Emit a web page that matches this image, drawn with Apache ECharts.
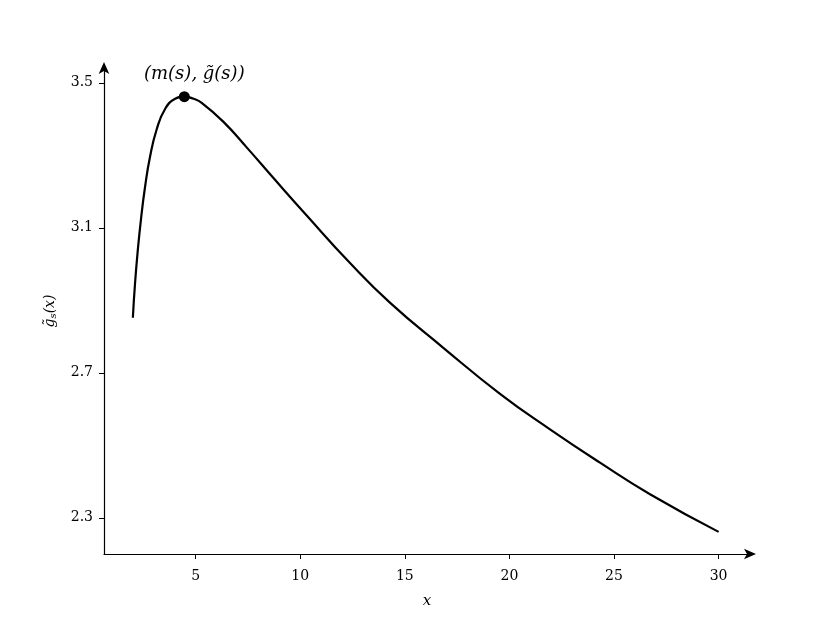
<!DOCTYPE html>
<html><head><meta charset="utf-8">
<script src="https://cdn.jsdelivr.net/npm/echarts@6/dist/echarts.min.js"></script>
<style>html,body{margin:0;padding:0;background:#fff}#c{width:830px;height:623px}</style>
</head><body><div id="c"></div>
<script>
const xValues = [2, 2.1, 2.23, 2.39, 2.58, 2.82, 3.14, 3.54, 4.02, 4.46, 4.9, 5.29, 6.32, 7.44, 8.71, 10.31, 12.38, 14.3, 16.84, 19.55, 21.94, 24.33, 26.72, 30];
const yValues = [2.852, 2.944, 3.035, 3.125, 3.212, 3.296, 3.372, 3.428, 3.456, 3.462, 3.456, 3.445, 3.393, 3.322, 3.238, 3.134, 3.003, 2.893, 2.769, 2.642, 2.544, 2.452, 2.365, 2.261];
const peak = [4.46, 3.462];
const xTicks = [5, 10, 15, 20, 25, 30];
const yTicks = [2.3, 2.7, 3.1, 3.5];
const peakLabel = '(m(s), g̃(s))';

const font = 'DejaVu Serif';
const chart = echarts.init(document.getElementById('c'), null, {renderer: 'canvas'});
chart.setOption({
  animation: false,
  backgroundColor: '#fff',
  grid: {left: 104, right: 80, top: 68, bottom: 69},
  xAxis: {
    type: 'value', min: 0.62, max: 31.5,
    splitLine: {show: false},
    axisLine: {lineStyle: {color: '#000', width: 1.2}, symbol: ['none', 'arrow'], symbolSize: [8, 12], symbolOffset: [0, 6]},
    axisTick: {length: 5, lineStyle: {color: '#000'}, customValues: xTicks},
    axisLabel: {color: '#000', fontFamily: font, fontSize: 14, margin: 15, customValues: xTicks},
    name: 'x', nameLocation: 'middle', nameGap: 40,
    nameTextStyle: {color: '#000', fontFamily: font, fontSize: 15, fontStyle: 'italic'}
  },
  yAxis: {
    type: 'value', min: 2.2, max: 3.541,
    splitLine: {show: false},
    axisLine: {lineStyle: {color: '#000', width: 1.2}, symbol: ['none', 'arrow'], symbolSize: [8, 12], symbolOffset: [0, 6]},
    axisTick: {length: 5, lineStyle: {color: '#000'}, customValues: yTicks},
    axisLabel: {color: '#000', fontFamily: font, fontSize: 14, margin: 11, customValues: yTicks, formatter: v => v.toFixed(1)},
    name: '{g|g̃}{s|s}{g|(x)}', nameLocation: 'middle', nameGap: 46, nameRotate: 90,
    nameTextStyle: {color: '#000', rich: {
      g: {fontFamily: font, fontSize: 14, fontStyle: 'italic', color: '#000'},
      s: {fontFamily: font, fontSize: 10, fontStyle: 'italic', color: '#000', verticalAlign: 'bottom', padding: [6, 0, 0, 0]}
    }}
  },
  series: [
    {
      type: 'line', data: xValues.map((x, i) => [x, yValues[i]]),
      smooth: 0.5, showSymbol: false,
      lineStyle: {color: '#000', width: 2.2}
    },
    {
      type: 'scatter', data: [peak], symbolSize: 11,
      itemStyle: {color: '#000', opacity: 1},
      label: {show: true, position: 'top', distance: 8, offset: [10, 0], formatter: peakLabel,
        fontFamily: font, fontSize: 18, fontStyle: 'italic', color: '#000'}
    }
  ]
});
</script></body></html>
